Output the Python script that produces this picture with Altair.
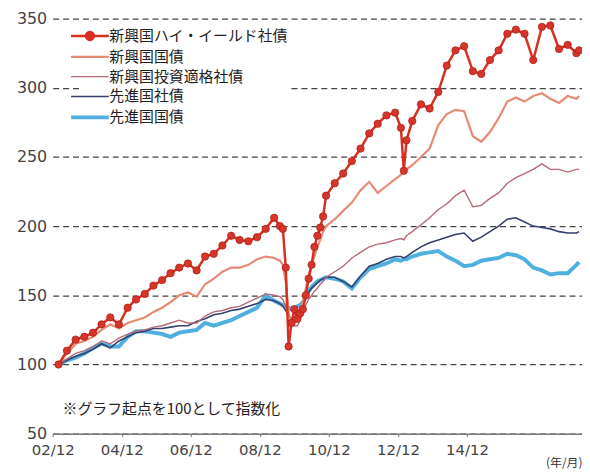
import altair as alt
import pandas as pd

# ---- data ----
dates = [
    "2003/02", "2003/05", "2003/08", "2003/11", "2004/02", "2004/05", "2004/08", "2004/11",
    "2005/02", "2005/05", "2005/08", "2005/11", "2006/02", "2006/05", "2006/08", "2006/11",
    "2007/02", "2007/05", "2007/08", "2007/11", "2008/02", "2008/05", "2008/08", "2008/11",
    "2009/02", "2009/05", "2009/07", "2009/08", "2009/09", "2009/10", "2009/11", "2009/12",
    "2010/01", "2010/02", "2010/03", "2010/04", "2010/05", "2010/06", "2010/07", "2010/08",
    "2010/09", "2010/10", "2010/11", "2011/02", "2011/05", "2011/08", "2011/11", "2012/02",
    "2012/05", "2012/08", "2012/11", "2013/01", "2013/02", "2013/03", "2013/05", "2013/08",
    "2013/11", "2014/02", "2014/05", "2014/08", "2014/11", "2015/02", "2015/05", "2015/08",
    "2015/11", "2016/02", "2016/05", "2016/08", "2016/11", "2017/02", "2017/05", "2017/08",
    "2017/11", "2018/02", "2018/03",
]

series_names = ["新興国ハイ・イールド社債", "新興国国債", "新興国投資適格社債", "先進国社債", "先進国国債"]

em_high_yield = [
    100, 110, 118, 120, 123, 129, 134, 129, 141, 147, 151, 157, 161, 166, 170, 173,
    168, 178, 180, 186, 193, 190, 189, 192, 198, 206, 200, 198, 170, 113, 130, 140,
    133, 137, 140, 150, 162, 172, 185, 193, 199, 207, 222, 231, 238, 247, 256, 267,
    274, 280, 282, 271, 240, 262, 276, 288, 285, 297, 316, 327, 330, 312, 310, 320,
    327, 339, 342, 339, 320, 344, 345, 328, 331, 325, 327,
]
em_gov = [
    100, 108, 115, 117, 120, 125, 129, 126, 130, 132, 134, 138, 141, 145, 150, 152,
    149, 158, 162, 167, 170, 170, 172, 176, 178, 177, 175, 172, 160, 138, 128, 130,
    135, 140, 145, 155, 165, 172, 178, 185, 190, 196, 200, 205, 211, 217, 226, 232,
    224, 229, 234, 237, 239, 241, 244, 250, 256, 273, 281, 284, 283, 265, 261, 268,
    278, 290, 293, 290, 294, 296, 292, 289, 294, 292, 294,
]
em_ig_corp = [
    100, 104, 108, 110, 113, 117, 115, 119, 122, 124, 125, 127, 128, 130, 132, 130,
    130, 135, 138, 139, 141, 142, 145, 148, 151, 150, 149, 147, 142, 136, 130, 128,
    128, 132, 138, 143, 147, 150, 153, 155, 158, 160, 163, 167, 171, 177, 181, 185,
    187, 188, 190, 191, 190, 193, 196, 201, 206, 212, 216, 222, 226, 214, 215, 220,
    224, 231, 235, 238, 241, 245, 241, 241, 239, 241, 241,
]
dm_corp = [
    100, 103, 106, 108, 111, 115, 112, 117, 120, 123, 124, 126, 126, 127, 128, 128,
    131, 133, 136, 137, 139, 140, 142, 144, 147, 146, 144, 142, 139, 135, 133, 134,
    136, 139, 143, 148, 152, 155, 157, 159, 161, 162, 163, 163, 160, 156, 164, 171,
    173, 176, 178, 178, 177, 178, 181, 185, 188, 190, 192, 194, 195, 189, 192, 196,
    200, 205, 206, 203, 200, 199, 198, 196, 195, 195, 196,
]
dm_gov = [
    100, 103, 105, 108, 112, 115, 113, 113, 120, 124, 124, 123, 122, 120, 123, 124,
    125, 130, 128, 130, 132, 135, 138, 141, 150, 146, 144, 143, 142, 141, 140, 141,
    142, 143, 145, 149, 153, 156, 158, 160, 161, 162, 163, 162, 160, 155, 163, 169,
    171, 173, 176, 175, 176, 176, 178, 180, 181, 182, 178, 175, 171, 172, 175, 176,
    177, 180, 179, 176, 170, 168, 165, 166, 166, 172, 174,
]

series_values = [em_high_yield, em_gov, em_ig_corp, dm_corp, dm_gov]
series_colors = ["#d7301f", "#e68a74", "#b56a78", "#34406e", "#4fb0e0"]
series_widths = [2.5, 2.2, 1.4, 1.6, 4]
draw_order = ["先進国国債", "先進国社債", "新興国投資適格社債", "新興国国債", "新興国ハイ・イールド社債"]

x_tick_years = [2002, 2004, 2006, 2008, 2010, 2012, 2014]
y_ticks = [50, 100, 150, 200, 250, 300, 350]
note_text = "※グラフ起点を100として指数化"
x_unit = "(年/月)"

rows = []
for name, vals in zip(series_names, series_values):
    for d, v in zip(dates, vals):
        rows.append({"date": d + "/01", "series": name, "value": v})
df = pd.DataFrame(rows)

NUM_FONT = "DejaVu Sans"
JP_FONT = "Noto Sans CJK JP"
HY = series_names[0]
width_of = dict(zip(series_names, series_widths))

# per-entry legend stroke width expression
width_expr = "".join(
    "datum.value === '" + n + "' ? " + str(w) + " : " for n, w in zip(series_names, series_widths)
) + "2"

x_enc = alt.X(
    "date:T",
    scale=alt.Scale(domain=[alt.DateTime(year=2002, month=12, date=1),
                            alt.DateTime(year=2018, month=4, date=1)]),
    axis=alt.Axis(
        values=[alt.DateTime(year=y, month=12, date=1) for y in x_tick_years],
        format="%y/%m", labelFlush=False, grid=False,
        labelFont=NUM_FONT, labelFontSize=15, labelColor="#444", labelPadding=6,
        domainColor="#777", domainWidth=1.5, tickColor="#777", tickSize=3,
        title=x_unit, titleFont=JP_FONT, titleFontSize=12, titleFontWeight="normal",
        titleColor="#333", titleAnchor="end", titlePadding=0,
    ),
)
y_enc = alt.Y(
    "value:Q",
    scale=alt.Scale(domain=[50, 350], nice=False, zero=False),
    axis=alt.Axis(
        values=y_ticks, title=None, domain=False, ticks=False,
        grid=True, gridDash=[6, 4], gridColor="#444", gridWidth=1.2,
        labelFont=NUM_FONT, labelFontSize=16, labelColor="#444", labelPadding=6,
    ),
)

legend = alt.Legend(
    title=None, orient="none", legendX=28, legendY=8,
    symbolType=alt.ExprRef(expr=(
        "datum.value === '" + HY + "' ? "
        "'M-2.375,0L2.375,0M0.5,0A0.5,0.5,0,1,1,-0.5,0A0.5,0.5,0,1,1,0.5,0' : "
        "'M-2.375,0L2.375,0'")),
    symbolFillColor=alt.ExprRef(expr="datum.value === '" + HY + "' ? '#d8352a' : 'transparent'"),
    symbolStrokeWidth=alt.ExprRef(expr=width_expr),
    symbolSize=256,
    labelFont=JP_FONT, labelFontSize=15, labelColor="#222", labelLimit=400,
    labelOffset=12, rowPadding=4, fillColor="white", padding=2,
)

color_enc = alt.Color("series:N", scale=alt.Scale(domain=series_names, range=series_colors), legend=legend)

line_layers = [
    alt.Chart(df).transform_filter(alt.datum.series == s)
    .mark_line(strokeWidth=width_of[s])
    .encode(x=x_enc, y=y_enc, color=color_enc)
    for s in draw_order
]

points = alt.Chart(df).transform_filter(alt.datum.series == HY).mark_circle(
    size=55, fill="#d8352a", stroke="#a61b14", strokeWidth=0.7, opacity=1
).encode(x="date:T", y="value:Q")

note_df = pd.DataFrame({"date": ["2003/03/15"], "value": [67.7], "text": [note_text]})
note = alt.Chart(note_df).mark_text(
    align="left", baseline="middle", font=JP_FONT, fontSize=15, color="#222"
).encode(x="date:T", y="value:Q", text="text:N")

chart = alt.layer(*line_layers, points, note).properties(
    width=533, height=418,
    autosize=alt.AutoSizeParams(type="none"),
    padding={"left": 45, "top": 9, "right": 0, "bottom": 40},
    background="white",
).configure_view(stroke=None)

chart.save("out.html", embed_options={"renderer": "svg", "actions": False})
